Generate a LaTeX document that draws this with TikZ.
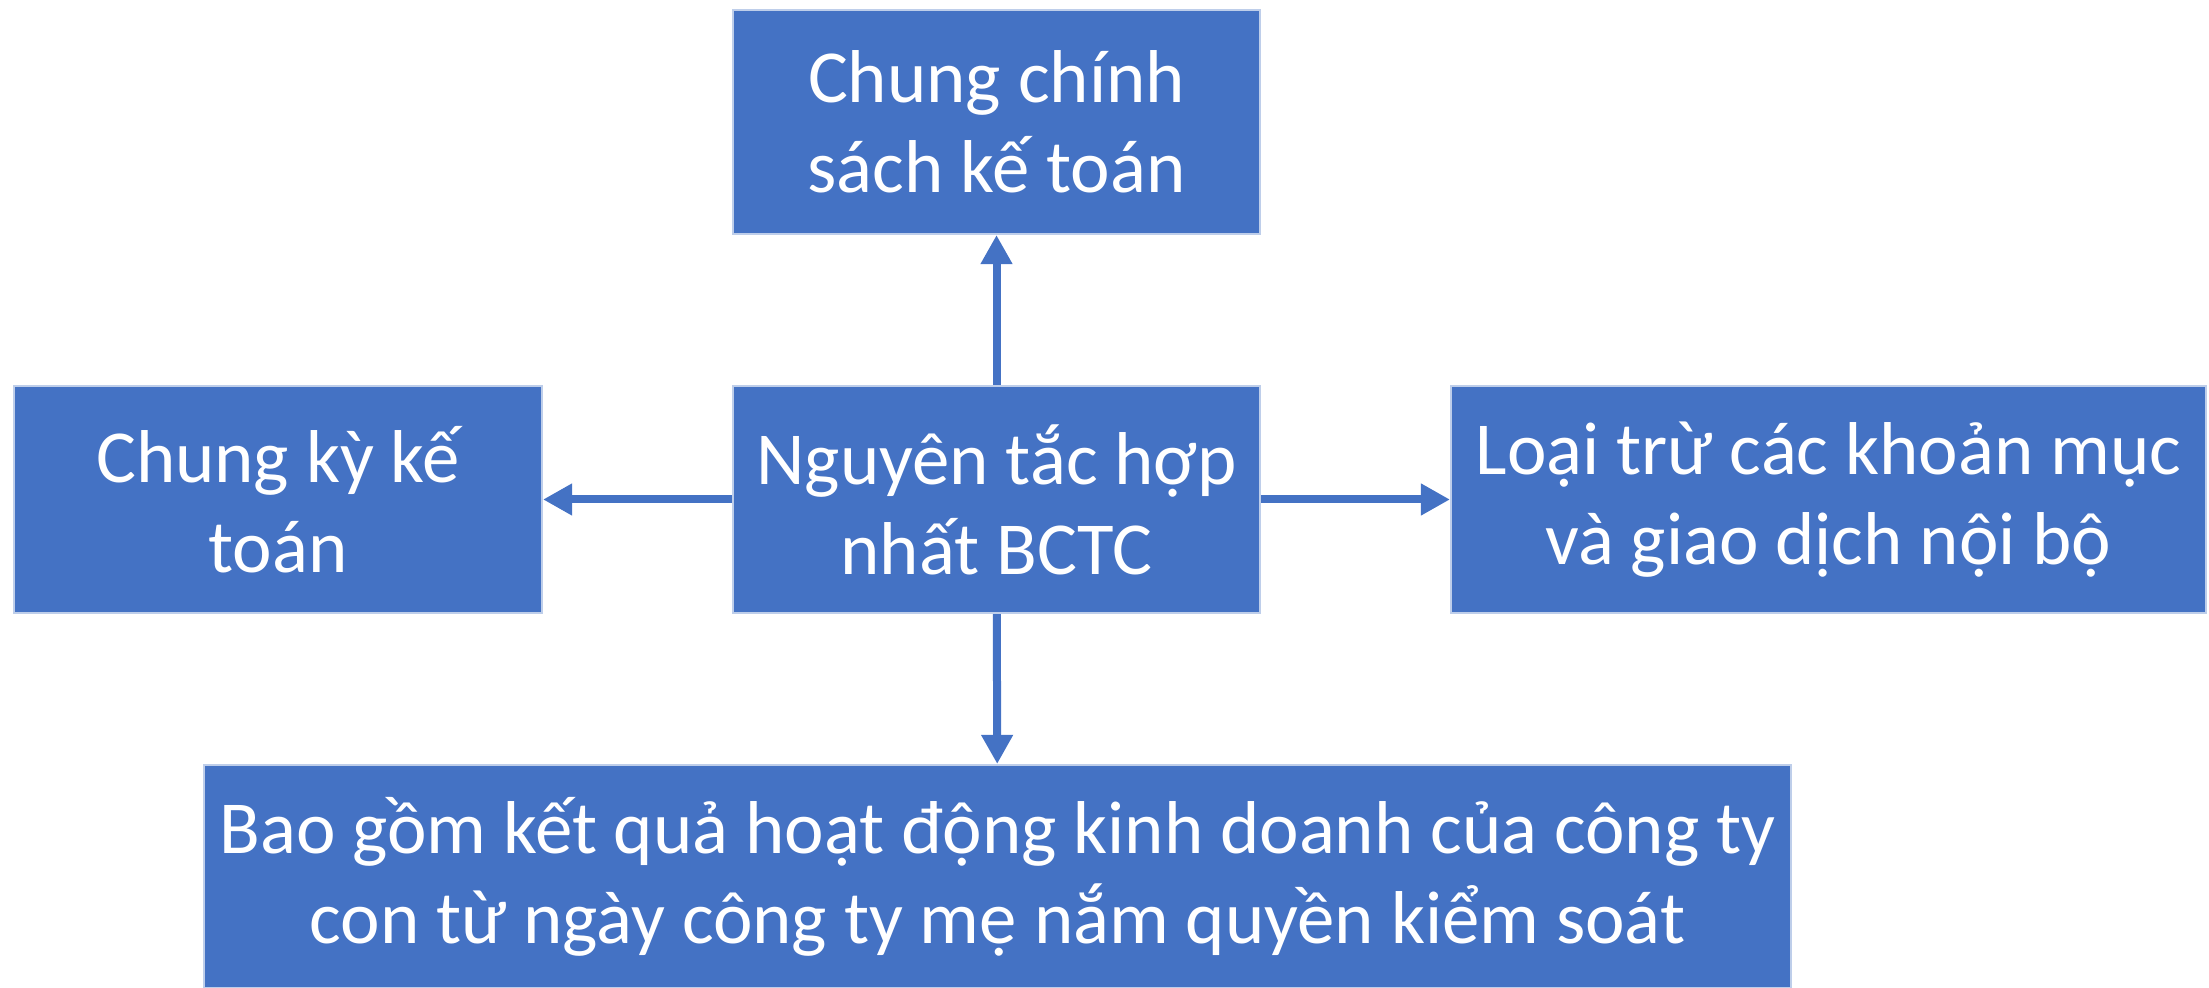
\documentclass[tikz,border=0pt]{standalone}
\usepackage{fontspec}
\setmainfont{Carlito}
\usepackage{xcolor}
\usepackage{tikz}
\usetikzlibrary{arrows.meta}

\definecolor{boxblue}{HTML}{4472C4}

\begin{document}
\begin{tikzpicture}[
    box/.style={draw=boxblue!35!white, line width=0.6pt, fill=boxblue, text=white,
        align=center, inner sep=0pt, font=\fontsize{21.3}{25.6}\selectfont},
    arr/.style={-{Triangle[length=0.29cm, width=0.3cm]}, line width=0.08cm, draw=boxblue}
]
    \useasboundingbox (0,0) rectangle (22.09,-9.88);

    % Central principle
    \node[box, minimum width=5.27cm, minimum height=2.27cm] (nguyentac) at (9.965,-4.995)
        {Nguyên tắc hợp\\nhất BCTC};

    % Top box
    \node[box, minimum width=5.27cm, minimum height=2.24cm] (chinhsach) at (9.965,-1.22)
        {Chung chính\\sách kế toán};

    % Left box
    \node[box, minimum width=5.28cm, minimum height=2.27cm] (kyketoan) at (2.78,-4.995)
        {Chung kỳ kế\\toán};

    % Right box
    \node[box, minimum width=7.55cm, minimum height=2.27cm] (loaitru) at (18.285,-4.995)
        {Loại trừ các khoản mục\\và giao dịch nội bộ};

    % Bottom box
    \node[box, minimum width=15.87cm, minimum height=2.23cm] (baogom) at (9.975,-8.765)
        {Bao gồm kết quả hoạt động kinh doanh của công ty\\con từ ngày công ty mẹ nắm quyền kiểm soát};

    % Arrows out of the centre
    \draw[arr] (nguyentac) -- (chinhsach);
    \draw[arr] (nguyentac) -- (kyketoan);
    \draw[arr] (nguyentac) -- (loaitru);
    \draw[arr] (nguyentac) -- (baogom);
\end{tikzpicture}
\end{document}
